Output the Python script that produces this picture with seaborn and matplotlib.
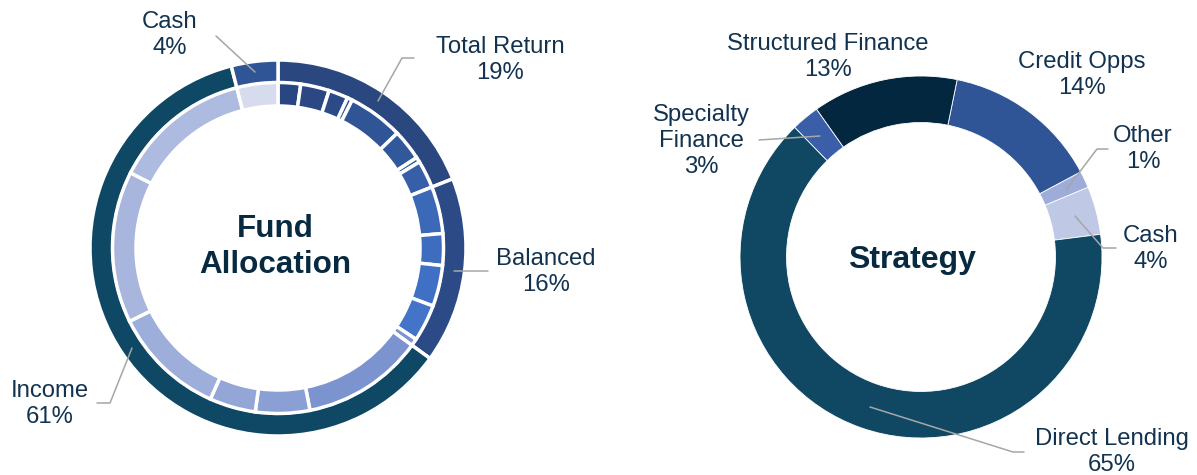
import seaborn as sns
import matplotlib.pyplot as plt

sns.set_theme(style="white")
plt.rcParams['font.family'] = ['Liberation Sans', 'DejaVu Sans']

# Fund Allocation - outer ring (fund level)
fund_names = ['Total Return', 'Balanced', 'Income', 'Cash']
fund_values = [19, 16, 61, 4]
fund_colors = ['#2b4780', '#2c4a85', '#0f4864', '#2f5597']

# Fund Allocation - inner ring (underlying holdings, clockwise from top)
total_return_parts = [2.2, 2.8, 1.9, 0.5, 5.4, 3.0, 0.5, 2.7]
balanced_parts = [4.6, 3.1, 4.0, 3.6, 0.7]
income_parts = [11.9, 5.3, 4.5, 11.0, 14.8, 13.5]
cash_parts = [4]

total_return_colors = ['#2a4682', '#2b4884', '#2c4a88', '#2f5090', '#305596',
                       '#32589c', '#3459a0', '#375fa8']
balanced_colors = ['#3c68b8', '#3e6cbe', '#4070c4', '#4474c8', '#7b93cf']
income_colors = ['#7b93cf', '#8a9fd4', '#93a6d6', '#9eaeda', '#a8b6dd', '#aebbe0']
cash_colors = ['#d6dcee']

# Strategy ring (counter-clockwise starting just above 3 o'clock)
strategy_names = ['Cash', 'Other', 'Credit Opps', 'Structured Finance',
                  'Specialty Finance', 'Direct Lending']
strategy_values = [4.3, 1.5, 14.0, 13.0, 2.5, 64.7]
strategy_labels = ['4%', '1%', '14%', '13%', '3%', '65%']
strategy_colors = ['#bfc8e5', '#9dacd9', '#2f5597', '#02273f', '#3b5ea9', '#104864']

label_color = '#12334f'
title_color = '#072a40'
line_color = '#a6a6a6'

fig = plt.figure(figsize=(11.97, 4.75), dpi=100)

# left donut, axes in pixel units (y measured upward)
ax1 = fig.add_axes([0, 0, 1, 1])
cx, cy = 278, 475 - 248
ax1.pie(fund_values, colors=fund_colors, startangle=90, counterclock=False,
        radius=188, center=(cx, cy),
        wedgeprops=dict(width=23, edgecolor='white', linewidth=2.5))
inner_values = total_return_parts + balanced_parts + income_parts + cash_parts
inner_colors = total_return_colors + balanced_colors + income_colors + cash_colors
ax1.pie(inner_values, colors=inner_colors, startangle=90, counterclock=False,
        radius=165.5, center=(cx, cy),
        wedgeprops=dict(width=23.5, edgecolor='white', linewidth=2.5))
ax1.set_xlim(0, 1197)
ax1.set_ylim(0, 475)
ax1.set_aspect('auto')
ax1.axis('off')

# right donut
r2 = 181
ax2 = fig.add_axes([(921 - 200) / 1197, (475 - 257 - 200) / 475, 400 / 1197, 400 / 475])
ax2.pie(strategy_values, colors=strategy_colors, startangle=7.2, counterclock=True,
        radius=1, wedgeprops=dict(width=0.257, edgecolor='white', linewidth=0.6))
ax2.set_xlim(-200 / r2, 200 / r2)
ax2.set_ylim(-200 / r2, 200 / r2)
ax2.set_aspect('auto')
ax2.axis('off')

# overlay for labels and leader lines, pixel coords from top-left
ov = fig.add_axes([0, 0, 1, 1], zorder=5)
ov.set_xlim(0, 1197)
ov.set_ylim(475, 0)
ov.patch.set_alpha(0)
ov.axis('off')

lbl = dict(ha='center', va='center', fontsize=17.2, color=label_color, linespacing=1.24)

ov.text(275, 247, 'Fund\nAllocation', ha='center', va='center', fontsize=22.6,
        fontweight='bold', color=title_color, linespacing=1.28)
ov.text(912, 260, 'Strategy', ha='center', va='center', fontsize=23,
        fontweight='bold', color=title_color)

fund_label_pos = [(500, 60), (546, 272), (50, 404), (170, 35)]
fund_leaders = [
    [(378, 101), (402, 58), (414, 58)],
    [(454, 271), (488, 271)],
    [(132, 348), (110, 403), (97, 403)],
    [(255, 72), (216, 36)],
]
for name, val, pos, pts in zip(fund_names, fund_values, fund_label_pos, fund_leaders):
    ov.text(pos[0], pos[1], f'{name}\n{val}%', **lbl)
    ov.plot([p[0] for p in pts], [p[1] for p in pts], color=line_color, lw=1.1)

strategy_text = ['Cash', 'Other', 'Credit Opps', 'Structured Finance',
                 'Specialty\nFinance', 'Direct Lending']
strategy_label_pos = [(1151, 249), (1143, 149), (1082, 75), (828, 57),
                      (701, 141), (1112, 452)]
strategy_leaders = [
    [(1075, 216), (1103, 248), (1116, 248)],
    [(1066, 190), (1097, 149), (1108, 149)],
    None,
    None,
    [(820, 136), (759, 140)],
    [(870, 407), (1013, 452), (1024, 452)],
]
for name, pct, pos, pts in zip(strategy_text, strategy_labels, strategy_label_pos,
                               strategy_leaders):
    ov.text(pos[0], pos[1], f'{name}\n{pct}', **lbl)
    if pts:
        ov.plot([p[0] for p in pts], [p[1] for p in pts], color=line_color, lw=1.1)

fig.savefig('out.png', dpi=100, facecolor='white')
